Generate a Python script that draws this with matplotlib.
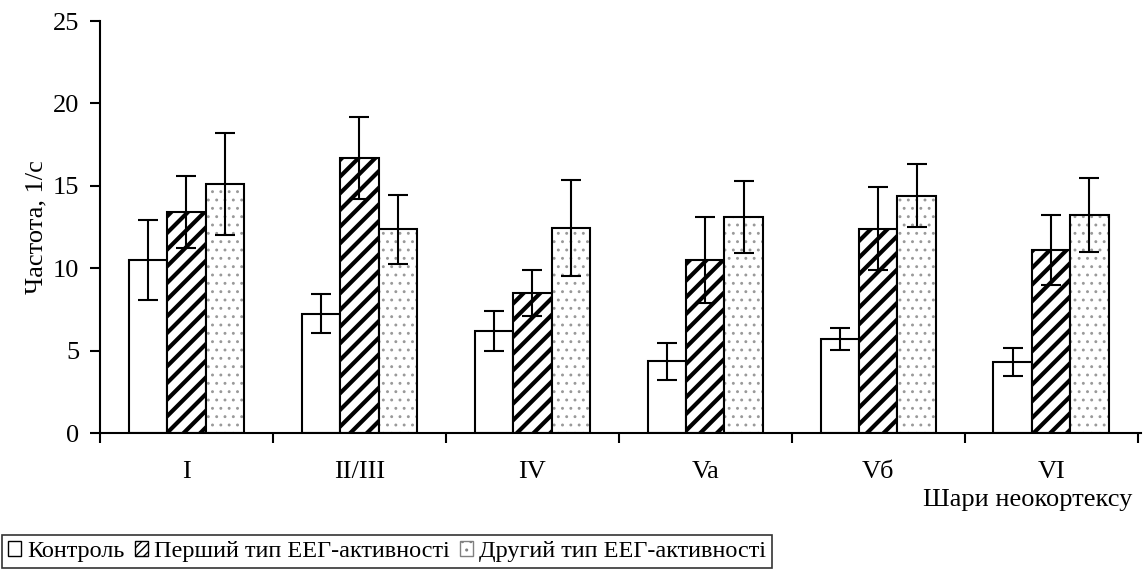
import numpy as np
import matplotlib
matplotlib.use('Agg')
import matplotlib.pyplot as plt
from matplotlib.patches import Patch

plt.rcParams['font.family'] = ['Liberation Serif', 'DejaVu Serif']

layers = ['I', 'II/III', 'IV', 'Va', 'Vб', 'VI']
control = [10.5, 7.25, 6.2, 4.35, 5.7, 4.3]
control_err = [2.45, 1.2, 1.2, 1.12, 0.65, 0.85]
type1 = [13.4, 16.7, 8.5, 10.5, 12.4, 11.1]
type1_err = [2.2, 2.5, 1.4, 2.6, 2.5, 2.1]
type2 = [15.1, 12.35, 12.45, 13.1, 14.4, 13.25]
type2_err = [3.1, 2.1, 2.9, 2.2, 1.9, 2.25]

names = ['Контроль', 'Перший тип ЕЕГ-активності', 'Другий тип ЕЕГ-активності']

fig = plt.figure(figsize=(11.45, 5.71), dpi=100)
ax = fig.add_axes([100/1145, (571-433)/571, 1041/1145, 412/571])

x = np.arange(len(layers))
w = 0.222
fs = 19

b1 = ax.bar(x - w, control, w, color='white', edgecolor='black', linewidth=1.5)
b2 = ax.bar(x, type1, w, color='white', edgecolor='black', linewidth=1.5, hatch='//')
# dotted bars: grey dots, black outline drawn on top
b3 = ax.bar(x + w, type2, w, color='white', edgecolor='#999999', linewidth=0, hatch='..')
b3o = ax.bar(x + w, type2, w, fill=False, edgecolor='black', linewidth=1.5)
for p in b3:
    p._hatch_linewidth = 0.9
for p in b2:
    p._hatch_linewidth = 3.0

for xs, vals, errs in [(x - w, control, control_err), (x, type1, type1_err), (x + w, type2, type2_err)]:
    ax.errorbar(xs, vals, yerr=errs, fmt='none', ecolor='black', elinewidth=1.5,
                capsize=7, capthick=1.5, zorder=5)

ax.set_xlim(-0.5, len(layers) - 0.5 + 0.02)
ax.set_ylim(0, 25)
ax.set_yticks([0, 5, 10, 15, 20, 25])
ax.set_xticks(x)
ax.set_xticklabels(layers)
ax.set_xticks(np.arange(len(layers) + 1) - 0.5, minor=True)
ax.tick_params(axis='x', which='major', length=0, labelsize=fs, pad=20)
ax.tick_params(axis='x', which='minor', length=7, width=1.5, direction='out')
ax.tick_params(axis='y', length=7, width=1.5, direction='out', labelsize=fs, pad=8)
for s in ['top', 'right']:
    ax.spines[s].set_visible(False)
for s in ['left', 'bottom']:
    ax.spines[s].set_linewidth(1.5)

ax.set_ylabel('Частота, 1/с', fontsize=fs, labelpad=4)
fig.text(1132/1145, (571-500)/571, 'Шари неокортексу', fontsize=fs, ha='right', va='center')

handles = [Patch(facecolor='white', edgecolor='black', linewidth=1.0),
           Patch(facecolor='white', edgecolor='black', linewidth=1.0, hatch='////'),
           Patch(facecolor='white', edgecolor='#808080', linewidth=1.0, hatch='..')]
leg = fig.legend(handles, names, loc='lower left', bbox_to_anchor=(2/1145, 3/571),
                 ncol=3, fontsize=17.5, frameon=True, fancybox=False, edgecolor='black',
                 handlelength=0.55, handleheight=0.55, handletextpad=0.25, columnspacing=0.4,
                 borderpad=0.25, borderaxespad=0)
leg.get_frame().set_linewidth(1.2)

fig.savefig('out.png', dpi=100)
